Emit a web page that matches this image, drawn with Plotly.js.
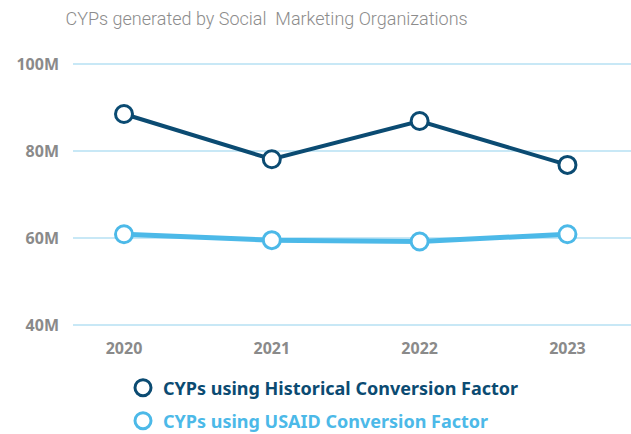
<!DOCTYPE html>
<html>
<head>
<meta charset="utf-8">
<script src="https://cdn.plot.ly/plotly-3.0.1.min.js"></script>
<style>html,body{margin:0;padding:0;background:#fff;}#chart{width:631px;height:434px;}</style>
</head>
<body>
<div id="chart"></div>
<script>
const years = ['2020', '2021', '2022', '2023'];
const historical = [88.5, 78.1, 86.9, 76.8];
const usaid = [60.85, 59.5, 59.2, 60.85];
const yTickVals = [40, 60, 80, 100];
const yTickText = ['40M', '60M', '80M', '100M'];
const seriesNames = ['CYPs using Historical Conversion Factor', 'CYPs using USAID Conversion Factor'];

const darkC = '#0b4b72';
const lightC = '#4cb9e8';

const mk = (c) => ({size: 17, color: '#ffffff', line: {color: c, width: 3}});

const traces = [
  {x: years, y: usaid, type: 'scatter', mode: 'lines+markers', line: {color: lightC, width: 5}, marker: mk(lightC), showlegend: false, cliponaxis: false, hoverinfo: 'skip'},
  {x: years, y: historical, type: 'scatter', mode: 'lines+markers', line: {color: darkC, width: 4}, marker: mk(darkC), showlegend: false, cliponaxis: false, hoverinfo: 'skip'},
  {x: [years[0]], y: [null], type: 'scatter', mode: 'markers', marker: mk(darkC), name: '<span style="color:' + darkC + '">' + seriesNames[0] + '</span>', legend: 'legend'},
  {x: [years[0]], y: [null], type: 'scatter', mode: 'markers', marker: mk(lightC), name: '<span style="color:' + lightC + '">' + seriesNames[1] + '</span>', legend: 'legend2'}
];

const legFont = {family: 'Noto Sans, sans-serif', size: 18, weight: 'bold'};
const layout = {
  width: 631, height: 434,
  margin: {l: 73, r: 0, t: 60, b: 105, autoexpand: false},
  paper_bgcolor: '#ffffff', plot_bgcolor: '#ffffff',
  title: {text: 'CYPs generated by Social  Marketing Organizations', x: 0.4225, xref: 'container', xanchor: 'center', y: 0.958, yanchor: 'middle',
          font: {family: 'Roboto, sans-serif', size: 18, color: '#8c8c8c', weight: 300}},
  xaxis: {type: 'category', range: [-0.345, 3.43], showgrid: false, zeroline: false, showline: false, ticks: '', tickangle: 0,
          tickfont: {family: 'Noto Sans, sans-serif', size: 16, color: '#8a8a8a', weight: 'bold'}, ticklabelstandoff: 8, fixedrange: true},
  yaxis: {range: [39.08, 100.92], tickvals: yTickVals, ticktext: yTickText, showgrid: true, gridcolor: '#c8e8f6', gridwidth: 1.5,
          zeroline: false, showline: false, ticks: '', ticklabelstandoff: 13,
          tickfont: {family: 'Noto Sans, sans-serif', size: 16, color: '#8a8a8a', weight: 'bold'}, fixedrange: true},
  legend: {x: 123 / 631, xref: 'container', y: (434 - 388) / 434, yref: 'container', xanchor: 'left', yanchor: 'middle', font: legFont, bgcolor: 'rgba(0,0,0,0)', itemclick: false},
  legend2: {x: 123 / 631, xref: 'container', y: (434 - 421) / 434, yref: 'container', xanchor: 'left', yanchor: 'middle', font: legFont, bgcolor: 'rgba(0,0,0,0)', itemclick: false},
  showlegend: true
};

Plotly.newPlot('chart', traces, layout, {displayModeBar: false, staticPlot: true});
</script>
</body>
</html>
